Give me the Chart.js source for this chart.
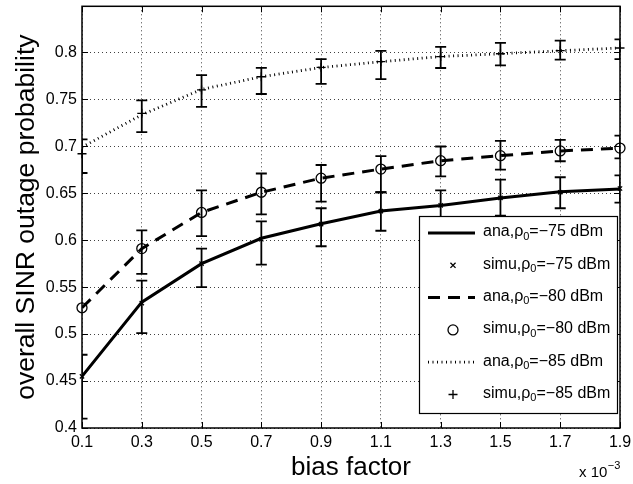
<!DOCTYPE html>
<html><head><meta charset="utf-8">
<script src="https://cdn.jsdelivr.net/npm/chart.js@4/dist/chart.umd.min.js"></script>
<style>html,body{margin:0;padding:0;background:#fff;}canvas{display:block;}</style>
</head><body>
<canvas id="c" width="633" height="484"></canvas>
<script>
// ---- data ----
const biasFactor = [0.1, 0.3, 0.5, 0.7, 0.9, 1.1, 1.3, 1.5, 1.7, 1.9];
const xTickValues = [0.1, 0.3, 0.5, 0.7, 0.9, 1.1, 1.3, 1.5, 1.7, 1.9];
const yTickValues = [0.4, 0.45, 0.5, 0.55, 0.6, 0.65, 0.7, 0.75, 0.8];

const ana75  = [0.455, 0.534, 0.575, 0.602, 0.6175, 0.631, 0.637, 0.645, 0.6515, 0.6546];
const simu75 = [0.455, 0.533, 0.575, 0.601, 0.617, 0.631, 0.637, 0.645, 0.651, 0.655];
const simu75Low  = [0.41, 0.501, 0.550, 0.574, 0.5935, 0.610, 0.620, 0.626, 0.634, 0.640];
const simu75High = [0.478, 0.557, 0.591, 0.620, 0.634, 0.651, 0.653, 0.6645, 0.667, 0.669];

const ana80  = [0.528, 0.591, 0.6295, 0.651, 0.666, 0.6757, 0.6846, 0.690, 0.695, 0.698];
const simu80 = [0.528, 0.591, 0.6295, 0.651, 0.666, 0.6757, 0.6846, 0.690, 0.695, 0.698];
const simu80Low  = [null, 0.564, 0.6044, 0.6274, 0.641, 0.651, 0.668, 0.675, 0.684, 0.687];
const simu80High = [null, 0.6105, 0.653, 0.671, 0.680, 0.6895, 0.6997, 0.7058, 0.7068, 0.7114];

const ana85  = [0.699, 0.7335, 0.7605, 0.774, 0.7838, 0.790, 0.7955, 0.7985, 0.8017, 0.8046];
const simu85 = [0.692, 0.735, 0.760, 0.774, 0.784, 0.790, 0.7955, 0.7985, 0.8017, 0.8046];
const simu85Low  = [0.6715, 0.715, 0.742, 0.7556, 0.7665, 0.7715, 0.7833, 0.786, 0.7922, 0.7927];
const simu85High = [0.7074, 0.7488, 0.7757, 0.7835, 0.7927, 0.8015, 0.8057, 0.810, 0.8124, 0.8138];

const seriesLabels = ['ana,ρ_0=−75 dBm', 'simu,ρ_0=−75 dBm', 'ana,ρ_0=−80 dBm',
                      'simu,ρ_0=−80 dBm', 'ana,ρ_0=−85 dBm', 'simu,ρ_0=−85 dBm'];
const xTitle = 'bias factor';
const yTitle = 'overall SINR outage probability';
const xExponent = '−3';

// ---- build ----
const FONT = '"Liberation Sans", Arial, Helvetica, sans-serif';
const pts = arr => biasFactor.map((x, i) => ({x: x, y: arr[i]}));

function lineDs(label, arr, dash, width) {
  return {label, data: pts(arr), showLine: true, borderColor: '#000', borderWidth: width,
    borderDash: dash, pointRadius: 0, tension: 0, fill: false, clip: 0, kind: 'line'};
}
function simuDs(label, arr, lo, hi, style, r) {
  return {label, data: pts(arr), showLine: false, borderColor: '#000', backgroundColor: 'rgba(0,0,0,0)',
    pointStyle: style, pointRadius: r, pointBorderWidth: 1.3, clip: false, errLow: lo, errHigh: hi, kind: 'marker'};
}
const datasets = [
  lineDs(seriesLabels[0], ana75, [], 3),
  simuDs(seriesLabels[1], simu75, simu75Low, simu75High, 'crossRot', 3),
  lineDs(seriesLabels[2], ana80, [12, 8], 3),
  simuDs(seriesLabels[3], simu80, simu80Low, simu80High, 'circle', 5),
  lineDs(seriesLabels[4], ana85, [1, 3.5], 2.8),
  simuDs(seriesLabels[5], simu85, simu85Low, simu85High, 'cross', 4.5)
];

function drawMarker(ctx, style, x, y, r) {
  ctx.beginPath();
  if (style === 'circle') { ctx.arc(x, y, r, 0, Math.PI * 2); }
  else if (style === 'cross') { ctx.moveTo(x - r, y); ctx.lineTo(x + r, y); ctx.moveTo(x, y - r); ctx.lineTo(x, y + r); }
  else { const d = r * 0.85; ctx.moveTo(x - d, y - d); ctx.lineTo(x + d, y + d); ctx.moveTo(x - d, y + d); ctx.lineTo(x + d, y - d); }
  ctx.stroke();
}

const errorBarPlugin = {
  id: 'errorBars',
  afterDatasetsDraw(chart) {
    const {ctx, chartArea: a, scales: {x, y}} = chart;
    ctx.save();
    ctx.beginPath(); ctx.rect(a.left, a.top, a.right - a.left, a.bottom - a.top); ctx.clip();
    ctx.strokeStyle = '#000'; ctx.lineWidth = 1.8;
    chart.data.datasets.forEach(ds => {
      if (!ds.errLow) return;
      biasFactor.forEach((bx, i) => {
        const lo = ds.errLow[i], hi = ds.errHigh[i];
        if (lo == null || hi == null) return;
        const px = x.getPixelForValue(bx), py1 = y.getPixelForValue(lo), py2 = y.getPixelForValue(hi);
        ctx.beginPath();
        ctx.moveTo(px, py1); ctx.lineTo(px, py2);
        ctx.moveTo(px - 5.5, py1); ctx.lineTo(px + 5.5, py1);
        ctx.moveTo(px - 5.5, py2); ctx.lineTo(px + 5.5, py2);
        ctx.stroke();
      });
    });
    ctx.restore();
  }
};

const framePlugin = {
  id: 'frame',
  afterDatasetsDraw(chart) {
    const {ctx, chartArea: a, scales: {x, y}} = chart;
    ctx.save();
    ctx.strokeStyle = '#000'; ctx.lineWidth = 1.5;
    ctx.strokeRect(a.left, a.top, a.right - a.left, a.bottom - a.top);
    ctx.lineWidth = 1;
    const L = 6;
    ctx.beginPath();
    xTickValues.forEach(v => {
      const px = Math.round(x.getPixelForValue(v)) + 0.5;
      ctx.moveTo(px, a.bottom); ctx.lineTo(px, a.bottom - L);
      ctx.moveTo(px, a.top); ctx.lineTo(px, a.top + L);
    });
    yTickValues.forEach(v => {
      const py = Math.round(y.getPixelForValue(v)) + 0.5;
      ctx.moveTo(a.left, py); ctx.lineTo(a.left + L, py);
      ctx.moveTo(a.right, py); ctx.lineTo(a.right - L, py);
    });
    ctx.stroke();
    ctx.restore();
  }
};

function drawSubText(ctx, text, x, y, size) {
  const parts = text.split('_');
  ctx.font = size + 'px ' + FONT;
  ctx.fillText(parts[0], x, y);
  let cx = x + ctx.measureText(parts[0]).width;
  if (parts.length > 1) {
    const sub = parts[1].charAt(0), rest = parts[1].slice(1);
    ctx.font = Math.round(size * 0.7) + 'px ' + FONT;
    ctx.fillText(sub, cx, y + size * 0.3);
    cx += ctx.measureText(sub).width;
    ctx.font = size + 'px ' + FONT;
    ctx.fillText(rest, cx, y);
  }
}

const legendPlugin = {
  id: 'customLegend',
  afterDraw(chart) {
    const {ctx} = chart;
    const bx = 419, by = 216, bw = 198, bh = 197;
    ctx.save();
    ctx.fillStyle = '#fff'; ctx.fillRect(bx, by, bw, bh);
    ctx.strokeStyle = '#000'; ctx.lineWidth = 1.2; ctx.strokeRect(bx + 0.5, by + 0.5, bw, bh);
    ctx.fillStyle = '#000'; ctx.textBaseline = 'middle'; ctx.textAlign = 'left';
    chart.data.datasets.forEach((ds, i) => {
      const cy = by + 17 + i * 32.3;
      ctx.strokeStyle = '#000';
      if (ds.kind === 'line') {
        ctx.lineWidth = ds.borderWidth; ctx.setLineDash(ds.borderDash || []);
        ctx.beginPath(); ctx.moveTo(428, cy); ctx.lineTo(475, cy); ctx.stroke();
        ctx.setLineDash([]);
      } else {
        ctx.lineWidth = 1.3;
        drawMarker(ctx, ds.pointStyle, 453, cy, ds.pointRadius);
      }
      drawSubText(ctx, ds.label, 483, cy - 1, 16);
    });
    ctx.restore();
  }
};

const titlePlugin = {
  id: 'titles',
  afterDraw(chart) {
    const {ctx, chartArea: a} = chart;
    ctx.save();
    ctx.fillStyle = '#000';
    ctx.textBaseline = 'alphabetic'; ctx.textAlign = 'center';
    ctx.font = '26px ' + FONT;
    ctx.fillText(xTitle, (a.left + a.right) / 2, 475);
    ctx.font = '26.5px ' + FONT;
    ctx.translate(34, (a.top + a.bottom) / 2);
    ctx.rotate(-Math.PI / 2);
    ctx.fillText(yTitle, 0, 0);
    ctx.restore();
    ctx.save();
    ctx.fillStyle = '#000'; ctx.textAlign = 'left'; ctx.textBaseline = 'alphabetic';
    ctx.font = '15px ' + FONT;
    ctx.fillText('x 10', 579, 477);
    const w = ctx.measureText('x 10').width;
    ctx.font = '11px ' + FONT;
    ctx.fillText(xExponent, 579 + w + 0.5, 469);
    ctx.restore();
  }
};

const fmt = v => String(Number(v.toFixed(2)));

new Chart(document.getElementById('c'), {
  type: 'scatter',
  data: {datasets},
  options: {
    responsive: false, animation: false, devicePixelRatio: 1,
    layout: {padding: {top: 4, right: 13, left: 0, bottom: 0}},
    plugins: {legend: {display: false}, tooltip: {enabled: false}},
    scales: {
      x: {
        type: 'linear', min: 0.1, max: 1.9,
        afterBuildTicks: s => { s.ticks = xTickValues.map(v => ({value: v})); },
        afterFit: s => { s.height = 56; s.paddingLeft = 0; s.paddingRight = 0; },
        ticks: {callback: v => fmt(v), color: '#000', font: {family: FONT, size: 16}, padding: 5, maxRotation: 0, autoSkip: false},
        grid: {color: 'rgba(0,0,0,0.75)', lineWidth: 1, drawTicks: false},
        border: {display: false, dash: [1, 3]}
      },
      y: {
        type: 'linear', min: 0.4, max: 0.849,
        afterBuildTicks: s => { s.ticks = yTickValues.map(v => ({value: v})); },
        afterFit: s => { s.width = 82; s.paddingTop = 0; s.paddingBottom = 0; },
        ticks: {callback: v => fmt(v), color: '#000', font: {family: FONT, size: 16}, padding: 5, autoSkip: false},
        grid: {color: 'rgba(0,0,0,0.75)', lineWidth: 1, drawTicks: false},
        border: {display: false, dash: [1, 3]}
      }
    }
  },
  plugins: [errorBarPlugin, framePlugin, legendPlugin, titlePlugin]
});
</script>
</body></html>
